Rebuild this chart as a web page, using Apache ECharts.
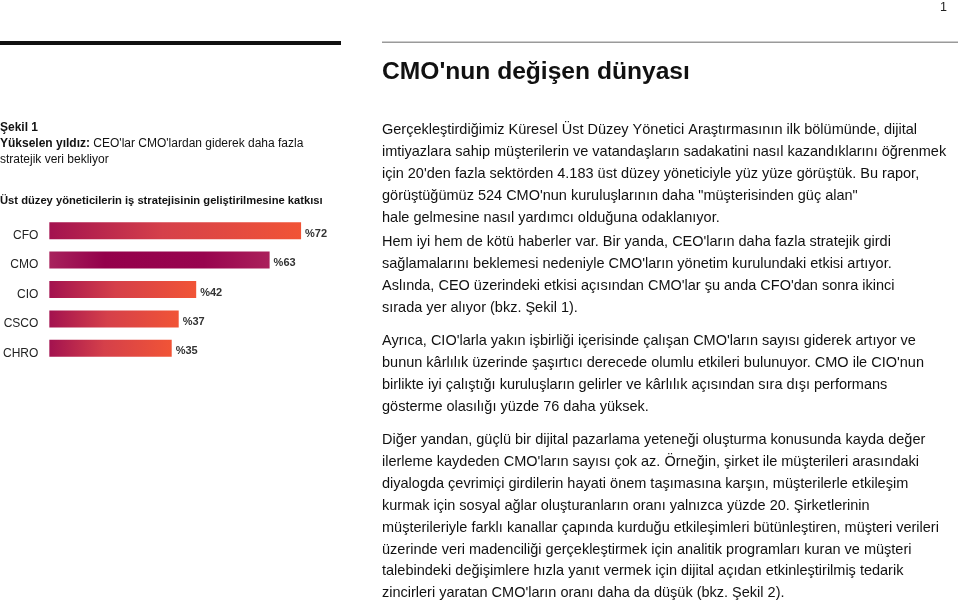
<!DOCTYPE html>
<html>
<head>
<meta charset="utf-8">
<script src="https://cdn.jsdelivr.net/npm/echarts@6/dist/echarts.min.js"></script>
<style>
html,body{margin:0;padding:0;background:#fff;}
#c{width:960px;height:605px;}
</style>
</head>
<body>
<div id="c"></div>
<script>
// ---- data ----
const categories = ['CFO', 'CMO', 'CIO', 'CSCO', 'CHRO'];
const values = [72, 63, 42, 37, 35];
const labelPrefix = '%';

const pageNumber = '1';
const title = "CMO'nun değişen dünyası";
const figureNo = 'Şekil 1';
const figureTitleBold = 'Yükselen yıldız:';
const figureTitleRest = " CEO'lar CMO'lardan giderek daha fazla";
const figureTitle2 = 'stratejik veri bekliyor';
const chartTitle = 'Üst düzey yöneticilerin iş stratejisinin geliştirilmesine katkısı';

const paragraphs = [
  ["Gerçekleştirdiğimiz Küresel Üst Düzey Yönetici Araştırmasının ilk bölümünde, dijital",
   "imtiyazlara sahip müşterilerin ve vatandaşların sadakatini nasıl kazandıklarını öğrenmek",
   "için 20'den fazla sektörden 4.183 üst düzey yöneticiyle yüz yüze görüştük. Bu rapor,",
   "görüştüğümüz 524 CMO'nun kuruluşlarının daha \"müşterisinden güç alan\"",
   "hale gelmesine nasıl yardımcı olduğuna odaklanıyor."],
  ["Hem iyi hem de kötü haberler var. Bir yanda, CEO'ların daha fazla stratejik girdi",
   "sağlamalarını beklemesi nedeniyle CMO'ların yönetim kurulundaki etkisi artıyor.",
   "Aslında, CEO üzerindeki etkisi açısından CMO'lar şu anda CFO'dan sonra ikinci",
   "sırada yer alıyor (bkz. Şekil 1)."],
  ["Ayrıca, CIO'larla yakın işbirliği içerisinde çalışan CMO'ların sayısı giderek artıyor ve",
   "bunun kârlılık üzerinde şaşırtıcı derecede olumlu etkileri bulunuyor. CMO ile CIO'nun",
   "birlikte iyi çalıştığı kuruluşların gelirler ve kârlılık açısından sıra dışı performans",
   "gösterme olasılığı yüzde 76 daha yüksek."],
  ["Diğer yandan, güçlü bir dijital pazarlama yeteneği oluşturma konusunda kayda değer",
   "ilerleme kaydeden CMO'ların sayısı çok az. Örneğin, şirket ile müşterileri arasındaki",
   "diyalogda çevrimiçi girdilerin hayati önem taşımasına karşın, müşterilerle etkileşim",
   "kurmak için sosyal ağlar oluşturanların oranı yalnızca yüzde 20. Şirketlerinin",
   "müşterileriyle farklı kanallar çapında kurduğu etkileşimleri bütünleştiren, müşteri verileri",
   "üzerinde veri madenciliği gerçekleştirmek için analitik programları kuran ve müşteri",
   "talebindeki değişimlere hızla yanıt vermek için dijital açıdan etkinleştirilmiş tedarik",
   "zincirleri yaratan CMO'ların oranı daha da düşük (bkz. Şekil 2)."]
];

// ---- layout / style ----
const FONT = '"Liberation Sans", Arial, Helvetica, sans-serif';
const paraStartY = [130, 242, 341, 440];
const lineH = 21.9;

const normalGrad = new echarts.graphic.LinearGradient(0, 0, 1, 0, [
  {offset: 0, color: '#a3124f'},
  {offset: 0.45, color: '#d5404a'},
  {offset: 1, color: '#f15436'}
]);
const highlightGrad = new echarts.graphic.LinearGradient(0, 0, 1, 0, [
  {offset: 0, color: '#a8225c'},
  {offset: 0.25, color: '#94004b'},
  {offset: 0.7, color: '#98044f'},
  {offset: 1, color: '#ab205b'}
]);

const graphics = [];
graphics.push({type: 'text', left: 940, top: 1, style: {text: pageNumber, font: '12.5px ' + FONT, fill: '#222'}});
graphics.push({type: 'rect', shape: {x: 0, y: 41, width: 341, height: 4}, style: {fill: '#111'}});
graphics.push({type: 'rect', shape: {x: 382, y: 41.5, width: 576, height: 1.5}, style: {fill: '#9a9a9a'}});
graphics.push({type: 'text', x: 382, y: 72, style: {text: title, font: 'bold 24.6px ' + FONT, fill: '#111', textVerticalAlign: 'middle'}});

graphics.push({type: 'text', x: 0, y: 128, style: {text: figureNo, font: 'bold 12px ' + FONT, fill: '#111', textVerticalAlign: 'middle'}});
graphics.push({type: 'text', x: 0, y: 144, style: {
  text: '{b|' + figureTitleBold + '}{n|' + figureTitleRest + '}',
  verticalAlign: 'middle',
  rich: {
    b: {font: 'bold 12px ' + FONT, fill: '#111'},
    n: {font: '12px ' + FONT, fill: '#111'}
  }
}});
graphics.push({type: 'text', x: 0, y: 160, style: {text: figureTitle2, font: '12px ' + FONT, fill: '#111', textVerticalAlign: 'middle'}});
graphics.push({type: 'text', x: 0, y: 201, style: {text: chartTitle, font: 'bold 11.2px ' + FONT, fill: '#111', textVerticalAlign: 'middle'}});

paragraphs.forEach((p, pi) => {
  p.forEach((line, li) => {
    graphics.push({type: 'text', x: 382, y: paraStartY[pi] + li * lineH,
      style: {text: line, font: '14.5px ' + FONT, fill: '#111', textVerticalAlign: 'middle'}});
  });
});

const chart = echarts.init(document.getElementById('c'), null, {renderer: 'canvas'});
chart.setOption({
  animation: false,
  backgroundColor: '#fff',
  grid: {left: 49, top: 216, width: 350, height: 147, containLabel: false},
  xAxis: {type: 'value', min: 0, max: 100, show: false},
  yAxis: {
    type: 'category', data: categories, inverse: true,
    axisLine: {show: false}, axisTick: {show: false}, splitLine: {show: false},
    axisLabel: {margin: 11, fontFamily: FONT, fontSize: 12, color: '#222', verticalAlign: 'top', lineHeight: 10}
  },
  series: [{
    type: 'bar',
    barWidth: 17,
    data: values.map((v, i) => ({value: v, itemStyle: {color: categories[i] === 'CMO' ? highlightGrad : normalGrad}})),
    label: {
      show: true, position: 'right', distance: 4, offset: [0, 3],
      formatter: p => labelPrefix + p.value,
      fontFamily: FONT, fontSize: 11, fontWeight: 'bold', color: '#333'
    }
  }],
  graphic: graphics
});
</script>
</body>
</html>
